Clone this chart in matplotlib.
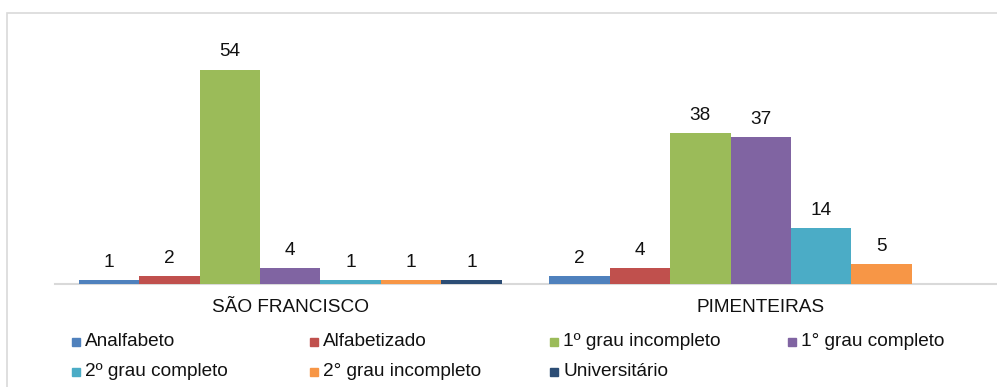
import numpy as np
import matplotlib.pyplot as plt
from matplotlib.patches import Rectangle

plt.rcParams['font.family'] = ['Liberation Sans', 'DejaVu Sans']

# Dados
locais = ['SÃO FRANCISCO', 'PIMENTEIRAS']
series = ['Analfabeto', 'Alfabetizado', '1º grau incompleto', '1° grau completo',
          '2º grau completo', '2° grau incompleto', 'Universitário']
sao_francisco = [1, 2, 54, 4, 1, 1, 1]
pimenteiras = [2, 4, 38, 37, 14, 5, None]
cores = ['#4F81BD', '#C0504D', '#9BBB59', '#8064A2', '#4BACC6', '#F79646', '#2C4D75']

fs = 13.7
fig = plt.figure(figsize=(9.97, 3.87), dpi=100)
ax = fig.add_axes([55 / 997, 103 / 387, 941 / 997, 238 / 387])

x = np.arange(len(locais))
n = len(series)
larg = 0.9 / n
for i, nome in enumerate(series):
    vals = [sao_francisco[i], pimenteiras[i]]
    for j, v in enumerate(vals):
        if v is None:
            continue
        pos = x[j] - 0.45 + larg * (i + 0.5)
        ax.bar(pos, v, width=larg, color=cores[i], edgecolor='none', zorder=3)
        ax.text(pos, v + 2.4, str(v), ha='center', va='bottom', fontsize=fs, color='#111111')

ax.set_xlim(-0.5, 1.5)
ax.set_ylim(0, 60)
ax.set_xticks(x)
ax.set_xticklabels(locais, fontsize=fs, color='#111111')
ax.tick_params(axis='x', length=0, pad=11)
ax.set_yticks([])
for s in ['top', 'right', 'left']:
    ax.spines[s].set_visible(False)
ax.spines['bottom'].set_color('#d9d9d9')
ax.spines['bottom'].set_linewidth(1.5)
ax.spines['bottom'].set_zorder(2)

# Legenda manual (4 colunas)
col_x = [72, 310, 550, 788]
lin_y = [342, 372]
for i, nome in enumerate(series):
    cx = col_x[i % 4]
    cy = lin_y[i // 4]
    fig.patches.append(Rectangle((cx / 997, (387 - cy - 4) / 387), 8 / 997, 8 / 387,
                                 transform=fig.transFigure, color=cores[i]))
    fig.text((cx + 13) / 997, (387 - cy) / 387, nome, fontsize=fs, va='center', ha='left',
             color='#111111')

# Moldura
fig.patches.append(Rectangle((7 / 997, -0.01), 1.0, (387 - 13) / 387 + 0.01,
                             transform=fig.transFigure, fill=False, edgecolor='#d9d9d9',
                             linewidth=1.2))

fig.savefig('out.png', dpi=100)
